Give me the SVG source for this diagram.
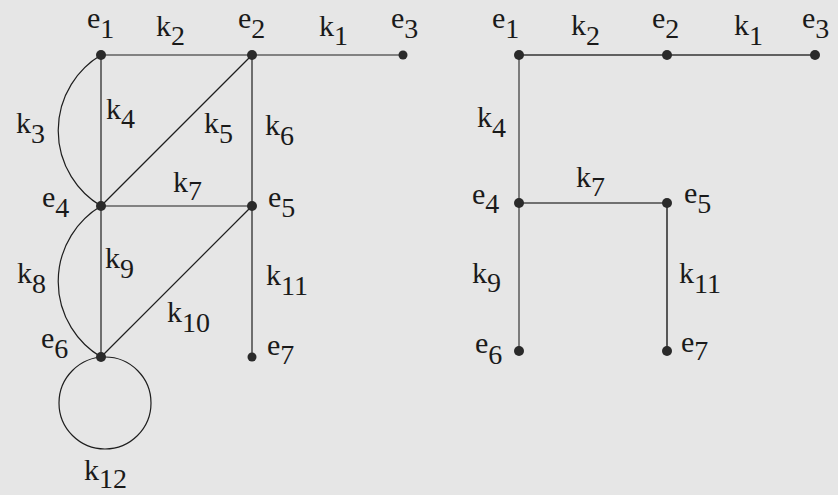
<svg xmlns="http://www.w3.org/2000/svg" width="838" height="495" viewBox="0 0 838 495">
<style>
.bg{fill:#e6e6e6}
.e{stroke:#1e1e1e;stroke-width:1.2;fill:none}
.g{stroke:#707070;stroke-width:1.8;fill:none}
.d{stroke:#333;stroke-width:1.6;fill:none}
.n{fill:#2a2a2a}
text{font-family:"Liberation Serif","Times New Roman",serif;font-size:30px;fill:#1a1a1a}
.s{font-size:28px}
</style>
<rect class="bg" width="838" height="495"/>
<g id="connectors">
<line class="e" x1="101" y1="55" x2="403" y2="55"/>
<line class="e" x1="101" y1="55" x2="101" y2="357"/>
<line class="e" x1="252" y1="55" x2="252" y2="357"/>
<line class="e" x1="101" y1="206" x2="252" y2="206"/>
<line class="e" x1="101" y1="206" x2="252" y2="55"/>
<line class="e" x1="101" y1="357" x2="252" y2="206"/>
<path class="e" d="M101,55 A88,88 0 0 0 101,206"/>
<path class="e" d="M101,206 A88,88 0 0 0 101,357"/>
<circle class="e" cx="105" cy="403" r="46"/>
<line class="d" x1="519" y1="55" x2="815" y2="55"/>
<line class="g" x1="519" y1="55" x2="519" y2="351"/>
<line class="g" x1="519" y1="203" x2="667" y2="203"/>
<line class="d" x1="667" y1="203" x2="667" y2="351"/>
</g>
<g id="e1"><circle class="n" cx="101" cy="55" r="5"/><text x="87" y="28">e<tspan class="s" dy="10">1</tspan></text></g>
<g id="e2"><circle class="n" cx="252" cy="55" r="5"/><text x="238" y="28">e<tspan class="s" dy="10">2</tspan></text></g>
<g id="e3"><circle class="n" cx="403" cy="55" r="4.5"/><text x="391" y="28">e<tspan class="s" dy="10">3</tspan></text></g>
<g id="e4"><circle class="n" cx="101" cy="206" r="5"/><text x="42" y="207">e<tspan class="s" dy="10">4</tspan></text></g>
<g id="e5"><circle class="n" cx="252" cy="206" r="5"/><text x="268" y="207">e<tspan class="s" dy="10">5</tspan></text></g>
<g id="e6"><circle class="n" cx="101" cy="357" r="5"/><text x="41" y="348">e<tspan class="s" dy="10">6</tspan></text></g>
<g id="e7"><circle class="n" cx="252" cy="357" r="4.5"/><text x="267" y="355">e<tspan class="s" dy="9">7</tspan></text></g>
<g id="edge-labels-left">
<text x="156" y="36">k<tspan class="s" dy="9">2</tspan></text>
<text x="319" y="36">k<tspan class="s" dy="9">1</tspan></text>
<text x="16" y="133">k<tspan class="s" dy="10">3</tspan></text>
<text x="106" y="119">k<tspan class="s" dy="9">4</tspan></text>
<text x="204" y="133">k<tspan class="s" dy="10">5</tspan></text>
<text x="265" y="135">k<tspan class="s" dy="10">6</tspan></text>
<text x="173" y="192">k<tspan class="s" dy="8">7</tspan></text>
<text x="17" y="283">k<tspan class="s" dy="10">8</tspan></text>
<text x="105" y="268">k<tspan class="s" dy="10">9</tspan></text>
<text x="167" y="322">k<tspan class="s" dy="10">10</tspan></text>
<text x="266" y="285">k<tspan class="s" dy="10">11</tspan></text>
<text x="84" y="480">k<tspan class="s" dy="8">12</tspan></text>
</g>
<g id="t-e1"><circle class="n" cx="519" cy="55" r="5"/><text x="492" y="28">e<tspan class="s" dy="10">1</tspan></text></g>
<g id="t-e2"><circle class="n" cx="667" cy="55" r="5"/><text x="652" y="28">e<tspan class="s" dy="10">2</tspan></text></g>
<g id="t-e3"><circle class="n" cx="815" cy="55" r="5"/><text x="802" y="28">e<tspan class="s" dy="10">3</tspan></text></g>
<g id="t-e4"><circle class="n" cx="519" cy="203" r="5"/><text x="472" y="204">e<tspan class="s" dy="9">4</tspan></text></g>
<g id="t-e5"><circle class="n" cx="667" cy="203" r="5"/><text x="684" y="203">e<tspan class="s" dy="10">5</tspan></text></g>
<g id="t-e6"><circle class="n" cx="519" cy="351" r="5"/><text x="475" y="353">e<tspan class="s" dy="11">6</tspan></text></g>
<g id="t-e7"><circle class="n" cx="667" cy="351" r="5"/><text x="681" y="352">e<tspan class="s" dy="8">7</tspan></text></g>
<g id="edge-labels-right">
<text x="571" y="35">k<tspan class="s" dy="10">2</tspan></text>
<text x="734" y="35">k<tspan class="s" dy="10">1</tspan></text>
<text x="477" y="127">k<tspan class="s" dy="10">4</tspan></text>
<text x="576" y="187">k<tspan class="s" dy="9">7</tspan></text>
<text x="472" y="283">k<tspan class="s" dy="9">9</tspan></text>
<text x="679" y="283">k<tspan class="s" dy="10">11</tspan></text>
</g>
</svg>
